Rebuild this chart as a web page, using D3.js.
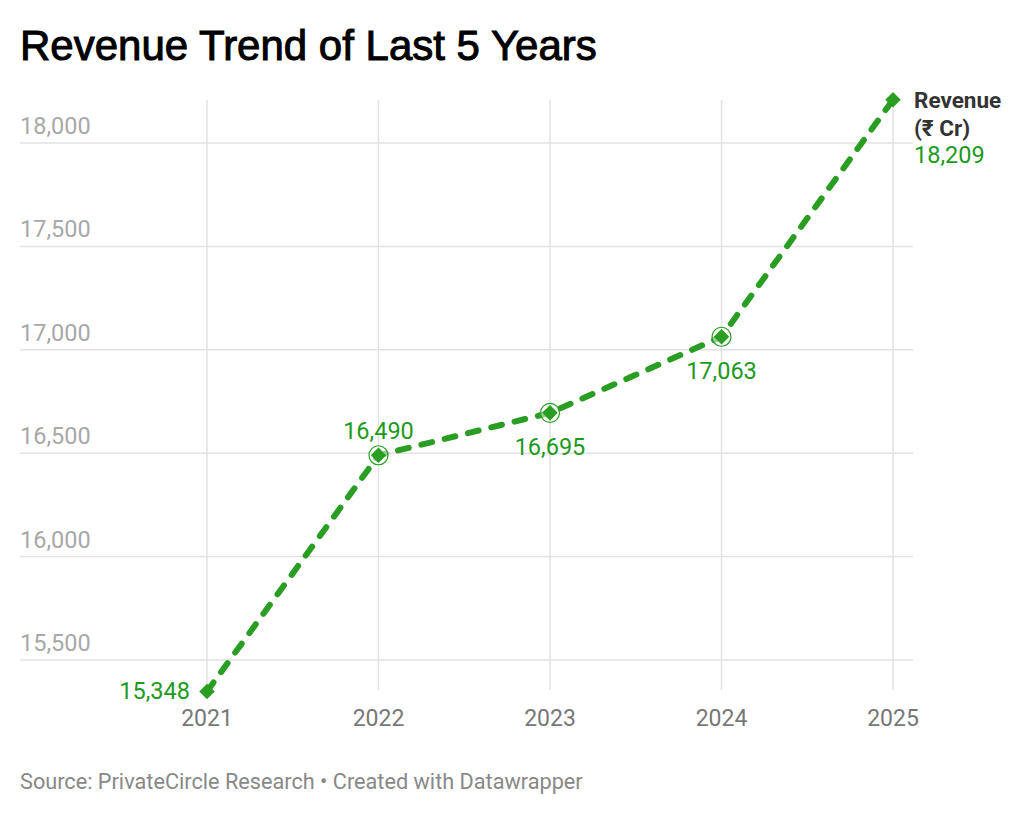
<!DOCTYPE html>
<html>
<head>
<meta charset="utf-8">
<script src="https://cdn.jsdelivr.net/npm/d3@7"></script>
<style>
  body { margin: 0; background: #fff; }
  text { font-family: Roboto, "Noto Sans", sans-serif; }
</style>
</head>
<body>
<svg id="chart" width="1024" height="815"></svg>
<script>
var years = ["2021", "2022", "2023", "2024", "2025"];
var revenue = [15348, 16490, 16695, 17063, 18209];
var yTicks = [15500, 16000, 16500, 17000, 17500, 18000];
// where each value label sits relative to its point
var labelPos = ["left", "above", "below", "below", "right"];

var green = "#2a9e22";
var labelGreen = "#1d9a1d";

var svg = d3.select("#chart");

var x = d3.scalePoint().domain(years).range([207, 893]);
var y = d3.scaleLinear().domain([15500, 18000]).range([660, 143]);

// title
svg.append("text")
    .attr("x", 20).attr("y", 60)
    .style("font-family", "'Liberation Sans', Arial, sans-serif")
    .style("font-size", "42px")
    .attr("fill", "#000")
    .attr("stroke", "#000")
    .attr("stroke-width", 1)
    .text("Revenue Trend of Last 5 Years");

// horizontal grid + y labels
var yGrid = svg.append("g");
yTicks.forEach(function (t) {
    yGrid.append("line")
        .attr("x1", 20).attr("x2", 913)
        .attr("y1", y(t)).attr("y2", y(t))
        .attr("stroke", "#e2e2e2").attr("stroke-width", 1.5);
    yGrid.append("text")
        .attr("x", 20).attr("y", y(t) - 9)
        .attr("fill", "#a8a8a8")
        .style("font-size", "23.5px")
        .text(d3.format(",")(t));
});

// vertical grid + x labels
var xGrid = svg.append("g");
years.forEach(function (yr) {
    xGrid.append("line")
        .attr("x1", x(yr)).attr("x2", x(yr))
        .attr("y1", 100).attr("y2", 690)
        .attr("stroke", "#e2e2e2").attr("stroke-width", 1.5);
    xGrid.append("text")
        .attr("x", x(yr)).attr("y", 726)
        .attr("text-anchor", "middle")
        .attr("fill", "#777")
        .style("font-size", "23px")
        .text(yr);
});

var data = years.map(function (yr, i) {
    return { year: yr, value: revenue[i], pos: labelPos[i] };
});

// dashed line
var line = d3.line()
    .x(function (d) { return x(d.year); })
    .y(function (d) { return y(d.value); });

svg.append("path")
    .datum(data)
    .attr("d", line)
    .attr("fill", "none")
    .attr("stroke", green)
    .attr("stroke-width", 6)
    .attr("stroke-linecap", "round")
    .attr("stroke-dasharray", "11,13");

// open circles on the middle points
svg.selectAll(".ring")
    .data(data.slice(1, 4))
    .enter().append("circle")
    .attr("cx", function (d) { return x(d.year); })
    .attr("cy", function (d) { return y(d.value); })
    .attr("r", 9.5)
    .attr("fill", "#fff")
    .attr("fill-opacity", 0.5)
    .attr("stroke", green)
    .attr("stroke-width", 1.2);

// diamond markers
svg.selectAll(".dot")
    .data(data)
    .enter().append("path")
    .attr("transform", function (d) { return "translate(" + x(d.year) + "," + y(d.value) + ") rotate(45)"; })
    .attr("d", "M-5.5,-5.5H5.5V5.5H-5.5Z")
    .attr("fill", green);

// value labels
svg.selectAll(".val")
    .data(data)
    .enter().append("text")
    .attr("x", function (d) {
        if (d.pos == "left") return x(d.year) - 17;
        if (d.pos == "right") return x(d.year) + 21;
        return x(d.year);
    })
    .attr("y", function (d) {
        if (d.pos == "above") return y(d.value) - 16;
        if (d.pos == "below") return y(d.value) + 42;
        if (d.pos == "right") return y(d.value) + 63;
        return y(d.value) + 8;
    })
    .attr("text-anchor", function (d) {
        if (d.pos == "left") return "end";
        if (d.pos == "right") return "start";
        return "middle";
    })
    .attr("fill", labelGreen)
    .style("font-size", "23.5px")
    .text(function (d) { return d3.format(",")(d.value); });

// series name next to last point
var last = data[data.length - 1];
var nameLbl = svg.append("text")
    .attr("x", x(last.year) + 21)
    .attr("y", y(last.value) + 8)
    .attr("fill", "#333")
    .style("font-size", "22.5px")
    .style("font-weight", "bold");
nameLbl.append("tspan").text("Revenue");
nameLbl.append("tspan").attr("x", x(last.year) + 21).attr("dy", 28).text("(₹ Cr)");

// footer
svg.append("text")
    .attr("x", 20).attr("y", 789)
    .attr("fill", "#888")
    .style("font-size", "21.7px")
    .text("Source: PrivateCircle Research • Created with Datawrapper");
</script>
</body>
</html>
